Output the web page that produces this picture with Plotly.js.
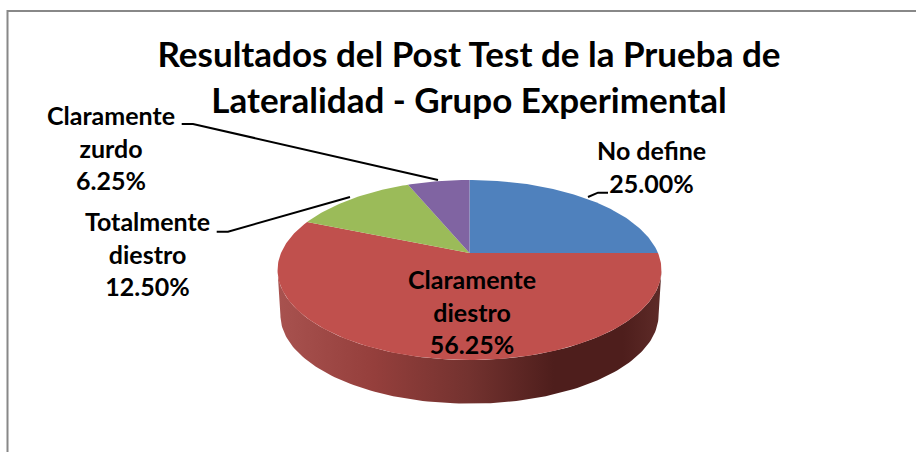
<!DOCTYPE html>
<html>
<head>
<meta charset="utf-8">
<script src="https://cdn.plot.ly/plotly-3.0.1.min.js"></script>
<style>html,body{margin:0;padding:0;background:#fff;overflow:hidden}#chart{width:916px;height:452px}</style>
</head>
<body>
<div id="chart"></div>
<script>
// Data
var categories = ['No define', 'Claramente diestro', 'Totalmente diestro', 'Claramente zurdo'];
var values = [25.00, 56.25, 12.50, 6.25];
var sliceColors = ['#4F81BD', '#C0504D', '#9BBB59', '#8064A2'];
var titleLines = ['Resultados del Post Test de la Prueba de', 'Lateralidad - Grupo Experimental'];
var labelLines = [['No define'], ['Claramente', 'diestro'], ['Totalmente', 'diestro'], ['Claramente', 'zurdo']];

// Pie projection (axes are in picture units)
var CX = 469.5, CY = 253, A = 188.5, B = 86.8, K = 0.189, DEPTH = 45, BOTTOM_SCALE = 0.985;
function project(deg, drop, scale) {
  var t = deg * Math.PI / 180, u = Math.sin(t), v = Math.cos(t), w = 1 + K * v;
  var x = A * u / w, y = -B * v / w;
  return [CX + x * scale, 270 + (CY - 270 + y) * scale + drop];
}
function arc(d0, d1, n, drop, scale) {
  var pts = [];
  for (var i = 0; i <= n; i++) pts.push(project(d0 + (d1 - d0) * i / n, drop, scale));
  return pts;
}

var traces = [];
// Side wall
var wall = arc(101, 259, 120, 0, 1).concat(arc(259, 101, 120, DEPTH, BOTTOM_SCALE));
wall.push(wall[0]);
traces.push({
  type: 'scatter', mode: 'lines', name: 'wall', showlegend: false, hoverinfo: 'skip',
  x: wall.map(function (p) { return p[0]; }), y: wall.map(function (p) { return p[1]; }),
  fill: 'toself', line: { width: 0, color: '#7a3532' },
  fillgradient: { type: 'horizontal', colorscale: [[0, '#A8524F'], [0.25, '#953F3C'], [0.5, '#73322F'], [0.72, '#4E1E1C'], [0.9, '#4E1E1C'], [1, '#5E2B28']] }
});
// Top faces, one wedge per value
var total = values.reduce(function (a, b) { return a + b; }, 0), acc = 0;
values.forEach(function (val, i) {
  var a0 = acc / total * 360, a1 = (acc + val) / total * 360;
  acc += val;
  var pts = [[CX, CY]].concat(arc(a0, a1, Math.max(8, Math.ceil(a1 - a0)), 0, 1));
  pts.push([CX, CY]);
  traces.push({
    type: 'scatter', mode: 'lines', name: categories[i], showlegend: false,
    x: pts.map(function (p) { return p[0]; }), y: pts.map(function (p) { return p[1]; }),
    fill: 'toself', fillcolor: sliceColors[i], line: { width: 0, color: sliceColors[i] },
    text: categories[i] + ': ' + val.toFixed(2) + '%', hoverinfo: 'text'
  });
});

// Data labels
var labelCentres = [[651, 166], [472, 311], [147, 253], [111, 147]];
var annotations = labelLines.map(function (lines, i) {
  return {
    xref: 'x', yref: 'y', x: labelCentres[i][0], y: labelCentres[i][1],
    text: lines.concat([values[i].toFixed(2) + '%']).join('<br>'),
    showarrow: false, xanchor: 'center', yanchor: 'middle', align: 'center',
    font: { family: 'Lato, sans-serif', size: 25, color: '#000', weight: 700 }
  };
});

function seg(path) {
  return { type: 'path', xref: 'x', yref: 'y', path: path, line: { color: '#000', width: 2 }, fillcolor: 'rgba(0,0,0,0)' };
}
var shapes = [
  seg('M181.7,124 L193,124 L438,180'),
  seg('M216.7,231.7 L228,231.7 L350,197'),
  seg('M608,192.7 L598,192.7 L588,197'),
  { type: 'path', xref: 'x', yref: 'y', path: 'M7.5,452 L7.5,11 L916,11', line: { color: '#888888', width: 2 }, fillcolor: 'rgba(0,0,0,0)' }
];

var layout = {
  width: 916, height: 452,
  margin: { l: 0, r: 0, t: 0, b: 0 },
  paper_bgcolor: '#fff', plot_bgcolor: '#fff',
  showlegend: false,
  title: {
    text: titleLines.join('<br>'),
    font: { family: 'Lato, sans-serif', size: 35, color: '#000', weight: 700 },
    x: 469 / 916, xanchor: 'center', xref: 'paper',
    y: 1 - 67 / 452, yanchor: 'top', yref: 'container'
  },
  xaxis: { range: [0, 916], visible: false, fixedrange: true },
  yaxis: { range: [452, 0], visible: false, fixedrange: true },
  annotations: annotations,
  shapes: shapes
};
Plotly.newPlot('chart', traces, layout, { displayModeBar: false });
</script>
</body>
</html>
